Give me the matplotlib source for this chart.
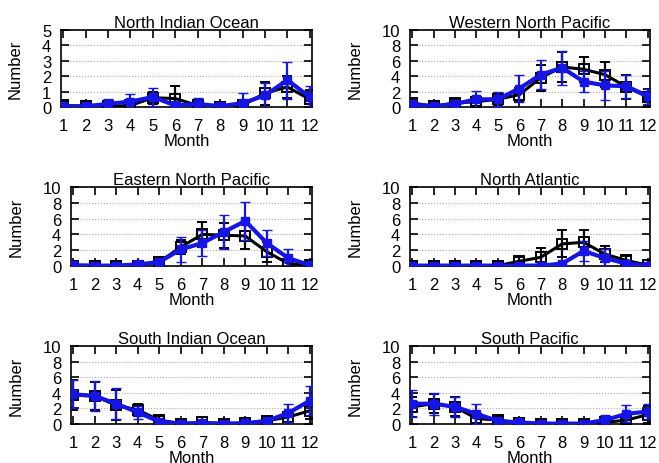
import matplotlib
matplotlib.use("Agg")
import matplotlib.pyplot as plt
import numpy as np

plt.rcParams['font.family'] = ['Liberation Sans', 'DejaVu Sans']

months = np.arange(1, 13)
month_labels = [str(m) for m in months]

titles = ["North Indian Ocean", "Western North Pacific", "Eastern North Pacific",
          "North Atlantic", "South Indian Ocean", "South Pacific"]

# black series (open squares)
nio_k = [0.1, 0.05, 0.05, 0.1, 0.6, 0.55, 0.1, 0.0, 0.1, 0.9, 1.3, 0.5]
nio_k_err = [0.2, 0.1, 0.1, 0.2, 0.4, 0.8, 0.1, 0.1, 0.3, 0.75, 0.7, 0.6]
wnp_k = [0.5, 0.1, 0.5, 0.7, 1.0, 1.6, 3.8, 5.2, 4.9, 4.2, 2.6, 1.3]
wnp_k_err = [0.4, 0.2, 0.6, 0.6, 0.8, 0.9, 1.7, 1.9, 1.6, 1.6, 1.6, 1.0]
enp_k = [0.05, 0.05, 0.05, 0.05, 0.5, 2.4, 4.0, 3.9, 3.8, 1.8, 0.3, 0.1]
enp_k_err = [0.1, 0.1, 0.1, 0.1, 0.3, 0.9, 1.6, 1.6, 1.6, 1.3, 0.4, 0.1]
na_k = [0.05, 0.05, 0.05, 0.05, 0.05, 0.6, 1.1, 2.8, 3.0, 1.5, 0.7, 0.1]
na_k_err = [0.05, 0.05, 0.05, 0.05, 0.1, 0.6, 1.2, 1.7, 1.6, 1.0, 0.6, 0.1]
sio_k = [3.7, 3.6, 2.4, 1.8, 0.5, 0.05, 0.2, 0.05, 0.1, 0.4, 0.9, 1.7]
sio_k_err = [1.9, 1.8, 1.9, 0.8, 0.5, 0.1, 0.2, 0.1, 0.1, 0.3, 0.7, 1.1]
sp_k = [2.2, 2.6, 2.2, 0.7, 0.5, 0.15, 0.05, 0.05, 0.05, 0.2, 0.5, 1.2]
sp_k_err = [1.3, 1.2, 1.2, 0.6, 0.4, 0.2, 0.05, 0.05, 0.05, 0.3, 0.4, 1.1]

# blue series (filled squares)
nio_b = [0.05, 0.05, 0.2, 0.35, 0.65, 0.1, 0.2, 0.05, 0.25, 0.75, 1.75, 0.65]
nio_b_err = [0.05, 0.05, 0.35, 0.5, 0.6, 0.1, 0.4, 0.05, 0.65, 0.8, 1.2, 0.7]
wnp_b = [0.4, 0.1, 0.4, 1.0, 1.0, 2.4, 4.2, 5.1, 3.3, 2.8, 2.7, 1.4]
wnp_b_err = [0.5, 0.1, 0.4, 1.1, 1.0, 1.8, 1.9, 2.2, 1.4, 1.9, 1.5, 1.0]
enp_b = [0.1, 0.05, 0.05, 0.2, 0.5, 2.1, 2.9, 4.3, 5.7, 2.9, 1.0, 0.1]
enp_b_err = [0.1, 0.05, 0.05, 0.2, 0.3, 1.6, 1.6, 2.1, 2.4, 1.6, 1.1, 0.1]
na_b = [0.05, 0.05, 0.05, 0.05, 0.05, 0.05, 0.05, 0.3, 1.9, 1.0, 0.3, 0.05]
na_b_err = [0.05, 0.05, 0.05, 0.05, 0.05, 0.05, 0.05, 0.2, 1.3, 1.1, 0.2, 0.05]
sio_b = [3.8, 3.6, 2.6, 1.5, 0.3, 0.05, 0.1, 0.05, 0.1, 0.4, 1.4, 3.0]
sio_b_err = [1.8, 1.9, 2.0, 0.8, 0.3, 0.05, 0.1, 0.05, 0.1, 0.3, 1.2, 1.9]
sp_b = [2.6, 2.6, 2.2, 1.3, 0.4, 0.2, 0.05, 0.05, 0.05, 0.5, 1.3, 1.6]
sp_b_err = [1.7, 1.4, 1.3, 1.3, 0.3, 0.2, 0.05, 0.05, 0.05, 0.6, 1.1, 1.0]

black = [(nio_k, nio_k_err), (wnp_k, wnp_k_err), (enp_k, enp_k_err),
         (na_k, na_k_err), (sio_k, sio_k_err), (sp_k, sp_k_err)]
blue = [(nio_b, nio_b_err), (wnp_b, wnp_b_err), (enp_b, enp_b_err),
        (na_b, na_b_err), (sio_b, sio_b_err), (sp_b, sp_b_err)]
ymaxes = [5, 10, 10, 10, 10, 10]

W, H = 659, 464
fig = plt.figure(figsize=(W / 100, H / 100), dpi=100)

# axes boxes in pixels: left, right, top, bottom
boxes = [(61, 312, 31, 108), (410, 650, 31, 108),
         (71, 312, 188, 267), (410, 650, 188, 267),
         (71, 312, 347, 425), (410, 650, 347, 425)]

for i in range(6):
    l, r, t, b = boxes[i]
    ax = fig.add_axes([l / W, 1 - b / H, (r - l) / W, (b - t) / H])
    ymax = ymaxes[i]
    step = 1 if ymax == 5 else 2
    ax.set_xlim(0.9, 12.1)
    ax.set_ylim(0, ymax)
    ax.set_yticks(np.arange(0, ymax + 0.01, step))
    ax.set_xticks(months)
    ax.set_xticklabels(month_labels)
    ax.yaxis.grid(True, linestyle=':', color='#aaaaaa', linewidth=0.8)
    ax.set_axisbelow(True)
    ax.tick_params(direction='in', top=True, right=True, length=6, width=1.2,
                   labelsize=12)
    ax.tick_params(axis='x', pad=8)
    ax.tick_params(axis='y', pad=7)
    for s in ax.spines.values():
        s.set_linewidth(1.2)
    kv, ke = black[i]
    bv, be = blue[i]
    ax.errorbar(months, kv, yerr=ke, color='black', linewidth=2.2, marker='s',
                markersize=6.5, markerfacecolor='none', markeredgewidth=1.4,
                elinewidth=1.6, capsize=3.5, capthick=1.6, clip_on=True, zorder=3)
    ax.errorbar(months, bv, yerr=be, color='#1515e6', linewidth=3, marker='s',
                markersize=5.5, markerfacecolor='#1515e6', markeredgewidth=1,
                elinewidth=1.6, capsize=3.5, capthick=1.6, clip_on=True, zorder=4)
    ax.set_title(titles[i], fontsize=12, pad=2)
    ax.set_xlabel('Month', fontsize=12, labelpad=0)
    ax.set_ylabel('Number', fontsize=12, labelpad=14)

fig.savefig('out.png', dpi=100)
